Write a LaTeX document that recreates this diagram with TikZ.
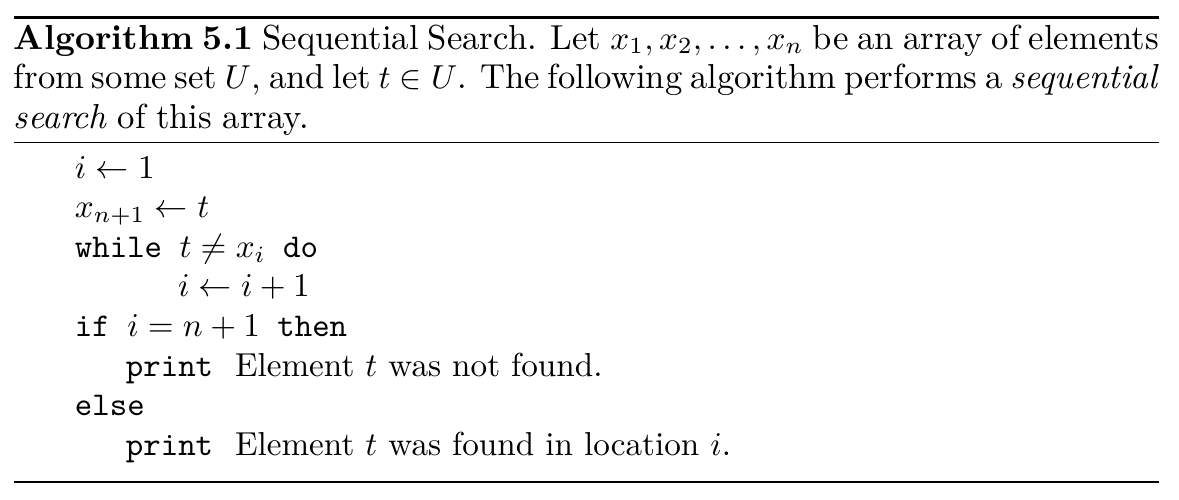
\documentclass[tikz,border=0pt]{standalone}
\newcommand\mycapfont{\fontsize{10.45}{12}\selectfont\spaceskip=0.3em plus 0.2em minus 0.13em\relax}
\begin{document}
\begin{tikzpicture}[x=0.3013pt,y=-0.3013pt,
  txt/.style={anchor=base west,inner sep=0pt,outer sep=0pt,font=\fontsize{10}{12}\selectfont}]
\useasboundingbox (0,0) rectangle (1179,499);
% rules
\draw[line width=0.8pt] (14,17.3) -- (1159,17.3);
\draw[line width=0.45pt] (14,142.5) -- (1159,142.5);
\draw[line width=0.45pt] (14,482) -- (1159,482);
% caption
\node[txt] (cap1) at (14,49) {\mycapfont\makebox[345pt][s]{\textbf{Algorithm 5.1} Sequential Search. Let $x_1, x_2, \ldots, x_n$ be an array of elements}};
\node[txt] (cap2) at (14,88.5) {\mycapfont\makebox[345pt][s]{from some set $U$, and let $t\in U$. The following algorithm performs a \emph{sequential}}};
\node[txt] (cap3) at (14,128) {\mycapfont\emph{search} of this array.};
% body
\node[txt] (l1) at (75,178) {$i \leftarrow 1$};
\node[txt] (l2) at (75,217.6) {$x_{n+1} \leftarrow t$};
\node[txt] (l3) at (75,257.2) {\texttt{while }$t \neq x_i$\texttt{ do}};
\node[txt] (l4) at (178,296.8) {$i \leftarrow i+1$};
\node[txt] (l5) at (75,336.4) {\texttt{if }$i = n+1$\texttt{ then}};
\node[txt] (l6) at (126,376) {\texttt{print}\hspace{6.6pt}Element $t$ was not found.};
\node[txt] (l7) at (75,415.6) {\texttt{else}};
\node[txt] (l8) at (126,455.2) {\texttt{print}\hspace{6.6pt}Element $t$ was found in location $i$.};
\end{tikzpicture}
\end{document}
